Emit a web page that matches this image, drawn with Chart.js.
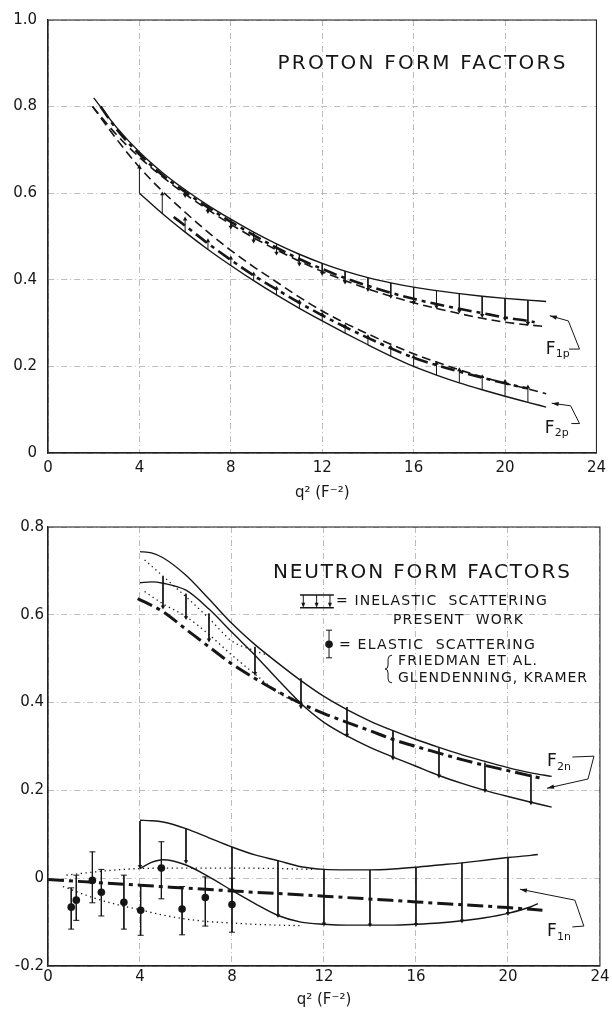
<!DOCTYPE html>
<html><head><meta charset="utf-8">
<script src="https://cdn.jsdelivr.net/npm/chart.js@4.4.1/dist/chart.umd.min.js"></script>
<style>
html,body{margin:0;padding:0;background:#fff;}
#w1{position:absolute;left:0;top:0;width:612px;height:510px;}
#w2{position:absolute;left:0;top:510px;width:612px;height:503px;}
</style></head><body>
<div id="w1"><canvas id="c1" width="612" height="510"></canvas></div>
<div id="w2"><canvas id="c2" width="612" height="503"></canvas></div>
<script>
// ================= DATA =================
const xTickValues = [0, 4, 8, 12, 16, 20, 24];
const yTickValuesTop = [0, 0.2, 0.4, 0.6, 0.8, 1.0];
const yTickValuesBottom = [-0.2, 0, 0.2, 0.4, 0.6, 0.8];

// ---- Proton (top panel) ----
const f1pUpperX = [2.0,3,4,5,6,7,8,9,10,11,12,13,14,15,16,17,18,19,20,21,21.8];
const f1pUpperY = [0.82,0.752,0.695,0.648,0.608,0.572,0.54,0.51,0.483,0.459,0.438,0.42,0.405,0.393,0.383,0.375,0.368,0.362,0.357,0.353,0.350];
const f1pDashX = [1.95,3,4,5,6,7,8,9,10,11,12,13,14,15,16,17,18,19,20,21,21.8];
const f1pDashY = [0.80,0.735,0.683,0.638,0.598,0.562,0.528,0.497,0.469,0.443,0.419,0.398,0.379,0.362,0.347,0.334,0.322,0.311,0.302,0.296,0.292];
const f1pDashDotX = [2.3,3,4,5,6,7,8,9,10,11,12,13,14,15,16,17,18,19,20,21,21.3];
const f1pDashDotY = [0.80,0.748,0.69,0.642,0.603,0.567,0.534,0.503,0.474,0.448,0.425,0.404,0.386,0.37,0.356,0.344,0.333,0.323,0.313,0.305,0.302];
const f1pArrowX = [6,7,8,9,10,11,12,13,14,15,16,17,18,19,20,21];
const f1pArrowFrom = [0.608,0.572,0.54,0.51,0.483,0.459,0.438,0.42,0.405,0.393,0.383,0.375,0.368,0.362,0.357,0.353];
const f1pArrowTo = [0.595,0.558,0.522,0.49,0.462,0.437,0.415,0.395,0.378,0.362,0.348,0.338,0.328,0.318,0.31,0.30];

const f2pLowerX = [4,5,6,7,8,9,10,11,12,13,14,15,16,17,18,19,20,21,21.8];
const f2pLowerY = [0.60,0.553,0.51,0.47,0.433,0.398,0.365,0.334,0.305,0.277,0.25,0.224,0.2,0.18,0.162,0.146,0.131,0.117,0.106];
const f2pDashX = [1.95,3,4,5,6,7,8,9,10,11,12,13,14,15,16,17,18,19,20,21,21.8];
const f2pDashY = [0.80,0.725,0.66,0.605,0.556,0.51,0.468,0.43,0.395,0.36,0.328,0.30,0.275,0.251,0.229,0.21,0.192,0.176,0.161,0.148,0.137];
const f2pDashDotX = [5.5,6,7,8,9,10,11,12,13,14,15,16,17,18,19,20,21];
const f2pDashDotY = [0.545,0.525,0.484,0.446,0.41,0.378,0.347,0.318,0.291,0.266,0.242,0.22,0.203,0.188,0.174,0.161,0.149];
const f2pArrowX = [4,5,6,7,8,9,10,11,12,13,14,15,16,17,18,19,20,21];
const f2pArrowFrom = [0.60,0.553,0.51,0.47,0.433,0.398,0.365,0.334,0.305,0.277,0.25,0.224,0.2,0.18,0.162,0.146,0.131,0.117];
const f2pArrowTo = [0.66,0.598,0.54,0.49,0.45,0.413,0.38,0.349,0.32,0.293,0.268,0.244,0.222,0.207,0.192,0.176,0.165,0.152];

// ---- Neutron (bottom panel) ----
const f2nBandX = [4,4.5,5,6,7,8,9,10,11,12,13,14,15,16,17,18,19,20,21,21.9];
const f2nUpperY = [0.744,0.741,0.73,0.69,0.636,0.58,0.532,0.49,0.45,0.414,0.384,0.358,0.336,0.316,0.298,0.281,0.266,0.252,0.24,0.232];
const f2nLowerY = [0.673,0.675,0.672,0.656,0.613,0.56,0.508,0.452,0.398,0.355,0.324,0.298,0.276,0.255,0.234,0.216,0.2,0.186,0.173,0.162];
const f2nDotUpX = [4.2,5,6,7,8,9,9.7];
const f2nDotUpY = [0.725,0.688,0.641,0.592,0.54,0.518,0.505];
const f2nDotLoX = [4.2,5,6,7,8,9,10,10.6];
const f2nDotLoY = [0.653,0.625,0.596,0.555,0.508,0.465,0.423,0.405];
const f2nDashDotX = [3.9,5,6,7,8,9,10,11,12,13,14,15,16,17,18,19,20,21,21.5];
const f2nDashDotY = [0.637,0.607,0.567,0.527,0.488,0.455,0.425,0.398,0.375,0.355,0.336,0.316,0.3,0.285,0.27,0.257,0.245,0.233,0.227];
const f2nArrowX = [5,6,7,9,11,13,15,17,19,21];
const f2nArrowFrom = [0.687,0.648,0.603,0.527,0.455,0.39,0.336,0.296,0.263,0.236];
const f2nArrowTo = [0.618,0.594,0.543,0.467,0.391,0.326,0.274,0.233,0.2,0.172];

const f1nBandX = [4,4.5,5,6,7,8,9,10,11,12,13,14,15,16,17,18,19,20,21,21.3];
const f1nUpperY = [0.132,0.131,0.128,0.113,0.092,0.071,0.053,0.04,0.026,0.02,0.019,0.019,0.021,0.025,0.03,0.035,0.041,0.047,0.052,0.054];
const f1nLowerY = [0.022,0.036,0.042,0.03,0.003,-0.028,-0.058,-0.085,-0.1,-0.105,-0.107,-0.107,-0.107,-0.105,-0.102,-0.097,-0.09,-0.08,-0.065,-0.058];
const f1nDotUpX = [0.8,2,3,4,6,8,10,11.5];
const f1nDotUpY = [0.007,0.014,0.019,0.022,0.023,0.023,0.022,0.02];
const f1nDotLoX = [0.65,2,3,4,5,6,7,8,9,10,11];
const f1nDotLoY = [-0.019,-0.045,-0.06,-0.072,-0.084,-0.093,-0.099,-0.102,-0.105,-0.107,-0.108];
const f1nDashDotX = [0,4,8,12,16,20,21.5];
const f1nDashDotY = [-0.003,-0.016,-0.029,-0.041,-0.054,-0.067,-0.073];
const f1nArrowX = [4,6,8,10,12,14,16,18,20];
const f1nArrowFrom = [0.13,0.113,0.071,0.04,0.02,0.019,0.025,0.035,0.047];
const f1nArrowTo = [0.027,0.038,-0.027,-0.085,-0.104,-0.106,-0.105,-0.097,-0.08];

// elastic scattering points (Friedman et al.; Glendenning, Kramer)
const elasticX = [1.01,1.23,1.93,2.32,3.30,4.03,4.93,5.83,6.84,8.0];
const elasticY = [-0.066,-0.050,-0.005,-0.032,-0.055,-0.073,0.023,-0.070,-0.044,-0.060];
const elasticHi = [-0.022,0.007,0.060,0.020,0.007,-0.015,0.083,-0.019,0.003,0.0];
const elasticLo = [-0.116,-0.096,-0.056,-0.086,-0.116,-0.13,-0.047,-0.129,-0.109,-0.123];

// ================= HELPERS =================
const INK = '#161616';
const FONT = '"DejaVu Sans", "Liberation Sans", sans-serif';
const pts = (xs, ys) => xs.map((x, i) => ({x, y: ys[i]}));
function segs(xs, a, b) {
  const d = [];
  xs.forEach((x, i) => { d.push({x, y: a[i]}, {x, y: b[i]}, {x, y: null}); });
  return d;
}
function curve(data, style) {
  const base = {type: 'line', data, pointRadius: 0, borderColor: INK, fill: false,
    cubicInterpolationMode: 'monotone', borderCapStyle: 'butt'};
  if (style === 'solid') Object.assign(base, {borderWidth: 1.4});
  if (style === 'dash') Object.assign(base, {borderWidth: 1.6, borderDash: [9, 5]});
  if (style === 'dashdot') Object.assign(base, {borderWidth: 2.6, borderDash: [14, 5, 4, 5]});
  if (style === 'dashdotThick') Object.assign(base, {borderWidth: 3, borderDash: [16, 5, 4, 5]});
  if (style === 'dot') Object.assign(base, {borderWidth: 1.3, borderDash: [1.3, 3.5]});
  return base;
}
function shafts(xs, a, b) {
  return {type: 'line', data: segs(xs, a, b), pointRadius: 0, borderColor: INK,
    borderWidth: 1, spanGaps: false, tension: 0};
}
function heads(xs, a, b) {
  return {type: 'scatter', data: pts(xs, b), showLine: false, pointStyle: 'triangle',
    pointRadius: 2.6, pointBackgroundColor: INK, pointBorderColor: INK, pointBorderWidth: 0,
    pointRotation: xs.map((x, i) => (b[i] < a[i] ? 180 : 0))};
}

function drawText(ctx, s, X, Y, size, targetW, align) {
  ctx.save();
  ctx.font = size + 'px ' + FONT;
  ctx.fillStyle = INK;
  ctx.textBaseline = 'middle';
  ctx.textAlign = align || 'left';
  if (targetW && 'letterSpacing' in ctx && s.length > 1) {
    const w = ctx.measureText(s).width;
    ctx.letterSpacing = ((targetW - w) / (s.length - 1)) + 'px';
  }
  ctx.fillText(s, X, Y);
  ctx.restore();
}
function arrowHead(ctx, x1, y1, x2, y2, len, half) {
  const a = Math.atan2(y2 - y1, x2 - x1);
  ctx.beginPath();
  ctx.moveTo(x2, y2);
  ctx.lineTo(x2 - len * Math.cos(a) + half * Math.sin(a), y2 - len * Math.sin(a) - half * Math.cos(a));
  ctx.lineTo(x2 - len * Math.cos(a) - half * Math.sin(a), y2 - len * Math.sin(a) + half * Math.cos(a));
  ctx.closePath();
  ctx.fill();
}
function pointer(chart, path) {
  const ctx = chart.ctx, sx = chart.scales.x, sy = chart.scales.y;
  const P = path.map(p => [sx.getPixelForValue(p[0]), sy.getPixelForValue(p[1])]);
  ctx.save();
  ctx.strokeStyle = INK; ctx.fillStyle = INK; ctx.lineWidth = 1;
  ctx.beginPath();
  ctx.moveTo(P[0][0], P[0][1]);
  for (let i = 1; i < P.length; i++) ctx.lineTo(P[i][0], P[i][1]);
  ctx.stroke();
  const n = P.length;
  arrowHead(ctx, P[n - 2][0], P[n - 2][1], P[n - 1][0], P[n - 1][1], 7, 2.2);
  ctx.restore();
}
function fLabel(chart, xv, yv, sub) {
  const ctx = chart.ctx;
  const X = chart.scales.x.getPixelForValue(xv), Y = chart.scales.y.getPixelForValue(yv);
  drawText(ctx, 'F', X, Y, 17);
  drawText(ctx, sub, X + 10, Y + 5, 11, sub.length * 7);
}
function frame(chart) {
  const {ctx, chartArea: a} = chart;
  ctx.save();
  ctx.strokeStyle = '#2a2a2a'; ctx.lineWidth = 1.1;
  ctx.strokeRect(a.left, a.top, a.right - a.left, a.bottom - a.top);
  ctx.restore();
}

function makeScales(yTicks, cfg) {
  return {
    x: {
      type: 'linear', min: 0, max: 24,
      afterBuildTicks: s => { s.ticks = xTickValues.map(v => ({value: v})); },
      afterFit: s => { s.height = cfg.xHeight; },
      ticks: {padding: cfg.xPad, color: INK, maxRotation: 0, font: {family: FONT, size: 15},
        callback: v => String(v)},
      grid: {color: '#a0a0a0', lineWidth: 0.7, drawTicks: false},
      border: {display: true, color: INK, width: 1.2, dash: [6, 3, 1, 3]},
      title: {display: true, text: 'q² (F⁻²)', color: INK, font: {family: FONT, size: 15},
        padding: {top: 0, bottom: cfg.titlePad}}
    },
    y: {
      type: 'linear', min: yTicks[0], max: yTicks[yTicks.length - 1],
      afterBuildTicks: s => { s.ticks = yTicks.map(v => ({value: v})); },
      afterFit: s => { s.width = 48; },
      ticks: {padding: cfg.yPad, color: INK, font: {family: FONT, size: 15},
        callback: v => (Math.abs(v) < 1e-9 ? '0' : v.toFixed(1))},
      grid: {color: '#a0a0a0', lineWidth: 0.7, drawTicks: false},
      border: {display: true, color: INK, width: 1.2, dash: [6, 3, 1, 3]}
    }
  };
}
const commonOpts = {
  responsive: false, animation: false, devicePixelRatio: 1,
  plugins: {legend: {display: false}, tooltip: {enabled: false}},
  elements: {line: {borderJoinStyle: 'round'}}
};

// ================= TOP: PROTON =================
const annotTop = {
  id: 'annotTop',
  afterDraw(chart) {
    frame(chart);
    const sx = chart.scales.x, sy = chart.scales.y, ctx = chart.ctx;
    drawText(ctx, 'PROTON FORM FACTORS', sx.getPixelForValue(10.04), sy.getPixelForValue(0.9), 20, 288);
    fLabel(chart, 21.78, 0.24, '1p');
    pointer(chart, [[22.8, 0.24], [23.26, 0.24], [22.77, 0.305], [21.96, 0.317]]);
    fLabel(chart, 21.74, 0.057, '2p');
    pointer(chart, [[22.9, 0.068], [23.26, 0.068], [22.87, 0.109], [22.04, 0.115]]);
  }
};
new Chart(document.getElementById('c1'), {
  data: {datasets: [
    curve(pts(f1pUpperX, f1pUpperY), 'solid'),
    curve(pts(f1pDashX, f1pDashY), 'dash'),
    curve(pts(f1pDashDotX, f1pDashDotY), 'dashdot'),
    shafts(f1pArrowX, f1pArrowFrom, f1pArrowTo),
    heads(f1pArrowX, f1pArrowFrom, f1pArrowTo),
    curve(pts(f2pLowerX, f2pLowerY), 'solid'),
    curve(pts(f2pDashX, f2pDashY), 'dash'),
    curve(pts(f2pDashDotX, f2pDashDotY), 'dashdot'),
    shafts(f2pArrowX, f2pArrowFrom, f2pArrowTo),
    heads(f2pArrowX, f2pArrowFrom, f2pArrowTo)
  ]},
  options: Object.assign({}, commonOpts, {
    layout: {padding: {top: 11, right: 12, left: 0, bottom: 0}},
    scales: makeScales(yTickValuesTop, {xHeight: 57, xPad: 6, titlePad: 8, yPad: 11})
  }),
  plugins: [annotTop]
});

// ================= BOTTOM: NEUTRON =================
const annotBottom = {
  id: 'annotBottom',
  afterDraw(chart) {
    frame(chart);
    const sx = chart.scales.x, sy = chart.scales.y, ctx = chart.ctx;
    const X = v => sx.getPixelForValue(v), Y = v => sy.getPixelForValue(v);
    drawText(ctx, 'NEUTRON FORM FACTORS', X(9.78), Y(0.696), 20, 297);
    // legend: inelastic band symbol
    ctx.save();
    ctx.strokeStyle = INK; ctx.fillStyle = INK; ctx.lineWidth = 1.4;
    const bx0 = X(10.96), bx1 = X(12.43), byT = Y(0.645), byB = Y(0.616);
    ctx.beginPath(); ctx.moveTo(bx0, byT); ctx.lineTo(bx1, byT); ctx.moveTo(bx0, byB); ctx.lineTo(bx1, byB); ctx.stroke();
    ctx.lineWidth = 1;
    [11.1, 11.68, 12.26].forEach(v => {
      ctx.beginPath(); ctx.moveTo(X(v), byT); ctx.lineTo(X(v), byB - 3); ctx.stroke();
      arrowHead(ctx, X(v), byT, X(v), byB, 5, 2);
    });
    // legend: elastic point symbol
    const ex = X(12.22);
    ctx.beginPath(); ctx.moveTo(ex, Y(0.565)); ctx.lineTo(ex, Y(0.502));
    ctx.moveTo(ex - 3, Y(0.565)); ctx.lineTo(ex + 3, Y(0.565));
    ctx.moveTo(ex - 3, Y(0.502)); ctx.lineTo(ex + 3, Y(0.502)); ctx.stroke();
    ctx.beginPath(); ctx.arc(ex, Y(0.533), 3.8, 0, Math.PI * 2); ctx.fill();
    // brace
    const brx = X(14.96), bry0 = Y(0.508), bry1 = Y(0.445), brm = (bry0 + bry1) / 2;
    ctx.beginPath();
    ctx.moveTo(brx, bry0); ctx.quadraticCurveTo(brx - 4, bry0, brx - 4, bry0 + 4);
    ctx.lineTo(brx - 4, brm - 4); ctx.quadraticCurveTo(brx - 4, brm, brx - 7, brm);
    ctx.quadraticCurveTo(brx - 4, brm, brx - 4, brm + 4);
    ctx.lineTo(brx - 4, bry1 - 4); ctx.quadraticCurveTo(brx - 4, bry1, brx, bry1);
    ctx.stroke();
    ctx.restore();
    drawText(ctx, '= INELASTIC  SCATTERING', X(12.52), Y(0.631), 14, 211);
    drawText(ctx, 'PRESENT  WORK', X(15.0), Y(0.588), 14, 130);
    drawText(ctx, '= ELASTIC  SCATTERING', X(12.65), Y(0.531), 14, 196);
    drawText(ctx, 'FRIEDMAN ET AL.', X(15.22), Y(0.495), 14, 139);
    drawText(ctx, 'GLENDENNING, KRAMER', X(15.22), Y(0.456), 14, 189);
    fLabel(chart, 21.7, 0.265, '2n');
    pointer(chart, [[22.8, 0.276], [23.74, 0.278], [23.48, 0.226], [21.7, 0.205]]);
    fLabel(chart, 21.7, -0.1226, '1n');
    pointer(chart, [[22.8, -0.111], [23.3, -0.109], [22.91, -0.05], [20.52, -0.025]]);
  }
};
new Chart(document.getElementById('c2'), {
  data: {datasets: [
    curve(pts(f2nBandX, f2nUpperY), 'solid'),
    curve(pts(f2nBandX, f2nLowerY), 'solid'),
    curve(pts(f2nDotUpX, f2nDotUpY), 'dot'),
    curve(pts(f2nDotLoX, f2nDotLoY), 'dot'),
    curve(pts(f2nDashDotX, f2nDashDotY), 'dashdotThick'),
    shafts(f2nArrowX, f2nArrowFrom, f2nArrowTo),
    heads(f2nArrowX, f2nArrowFrom, f2nArrowTo),
    curve(pts(f1nBandX, f1nUpperY), 'solid'),
    curve(pts(f1nBandX, f1nLowerY), 'solid'),
    curve(pts(f1nDotUpX, f1nDotUpY), 'dot'),
    curve(pts(f1nDotLoX, f1nDotLoY), 'dot'),
    curve(pts(f1nDashDotX, f1nDashDotY), 'dashdotThick'),
    shafts(f1nArrowX, f1nArrowFrom, f1nArrowTo),
    heads(f1nArrowX, f1nArrowFrom, f1nArrowTo),
    shafts(elasticX, elasticHi, elasticLo),
    {type: 'scatter', data: pts(elasticX.concat(elasticX), elasticHi.concat(elasticLo)), showLine: false,
      pointStyle: 'line', pointRadius: 3, pointBorderColor: INK, pointBorderWidth: 1},
    {type: 'scatter', data: pts(elasticX, elasticY), showLine: false, pointStyle: 'circle',
      pointRadius: 3.8, pointBackgroundColor: INK, pointBorderColor: INK, pointBorderWidth: 0}
  ]},
  options: Object.assign({}, commonOpts, {
    layout: {padding: {top: 17, right: 12, left: 0, bottom: 0}},
    scales: makeScales(yTickValuesBottom, {xHeight: 47, xPad: 2.5, titlePad: 4, yPad: 4})
  }),
  plugins: [annotBottom]
});
</script>
</body></html>
